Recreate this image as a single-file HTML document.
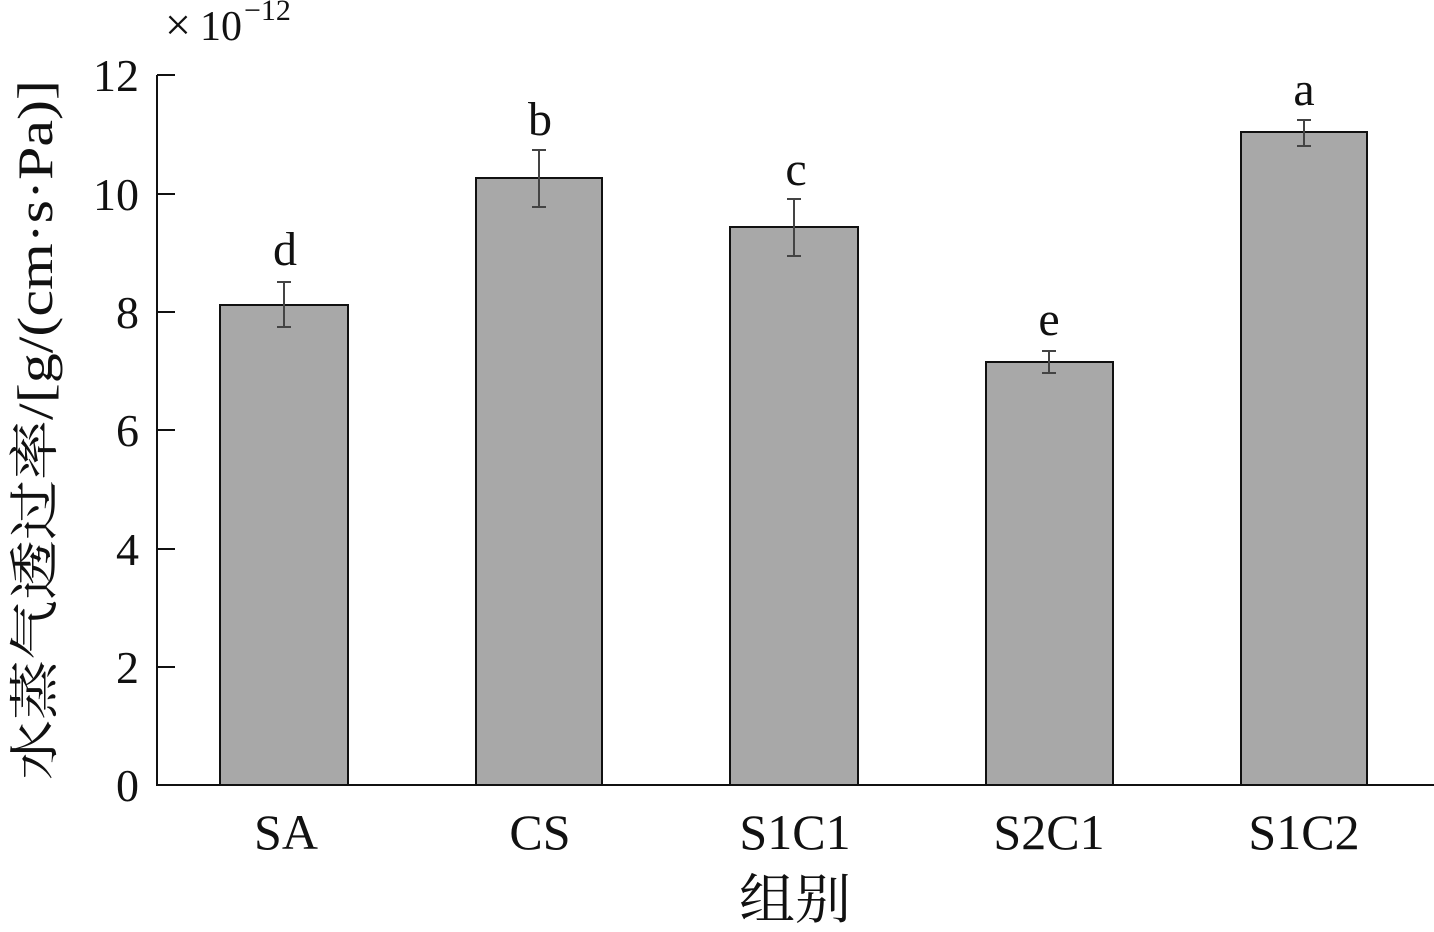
<!DOCTYPE html>
<html><head><meta charset="utf-8"><style>
body{margin:0;background:#fff;}
svg text{font-family:"Liberation Serif","Noto Serif CJK SC",serif;fill:#111;}
</style></head><body>
<svg width="1434" height="927" xmlns="http://www.w3.org/2000/svg">
<g stroke="#111" stroke-width="2" fill="none">
<line x1="157" y1="75" x2="157" y2="786"/>
<line x1="156" y1="785" x2="1434" y2="785"/>
<line x1="157" y1="75" x2="175" y2="75"/>
<line x1="157" y1="194" x2="175" y2="194"/>
<line x1="157" y1="312" x2="175" y2="312"/>
<line x1="157" y1="430" x2="175" y2="430"/>
<line x1="157" y1="549" x2="175" y2="549"/>
<line x1="157" y1="667" x2="175" y2="667"/>
</g>
<g font-size="46" text-anchor="end">
<text x="139" y="91">12</text>
<text x="139" y="210">10</text>
<text x="139" y="328">8</text>
<text x="139" y="446">6</text>
<text x="139" y="565">4</text>
<text x="139" y="683">2</text>
<text x="139" y="801">0</text>
</g>
<text x="165" y="40" font-size="46">×</text>
<text x="200" y="40" font-size="42">10</text>
<text x="244" y="20" font-size="30">−12</text>
<g fill="#a8a8a8" stroke="#111" stroke-width="2">
<rect x="220" y="305" width="128" height="480"/>
<rect x="476" y="178" width="126" height="607"/>
<rect x="730" y="227" width="128" height="558"/>
<rect x="986" y="362" width="127" height="423"/>
<rect x="1241" y="132" width="126" height="653"/>
</g>
<g stroke="#444" stroke-width="2">
<line x1="284" y1="282" x2="284" y2="327"/><line x1="277" y1="282" x2="291" y2="282"/><line x1="277" y1="327" x2="291" y2="327"/>
<line x1="539" y1="150" x2="539" y2="207"/><line x1="532" y1="150" x2="546" y2="150"/><line x1="532" y1="207" x2="546" y2="207"/>
<line x1="794" y1="199" x2="794" y2="256"/><line x1="787" y1="199" x2="801" y2="199"/><line x1="787" y1="256" x2="801" y2="256"/>
<line x1="1049" y1="351" x2="1049" y2="373"/><line x1="1042" y1="351" x2="1056" y2="351"/><line x1="1042" y1="373" x2="1056" y2="373"/>
<line x1="1304" y1="120" x2="1304" y2="146"/><line x1="1297" y1="120" x2="1311" y2="120"/><line x1="1297" y1="146" x2="1311" y2="146"/>
</g>
<g font-size="48" text-anchor="middle">
<text x="285" y="265">d</text>
<text x="540" y="135">b</text>
<text x="796" y="185">c</text>
<text x="1049" y="335">e</text>
<text x="1304" y="105">a</text>
</g>
<g font-size="50" text-anchor="middle">
<text x="286" y="849">SA</text>
<text x="540" y="849">CS</text>
<text x="795" y="849">S1C1</text>
<text x="1049" y="849">S2C1</text>
<text x="1304" y="849">S1C2</text>
</g>
<text x="795" y="918" font-size="54" text-anchor="middle" textLength="112" lengthAdjust="spacingAndGlyphs">组别</text>
<text transform="translate(52,430) rotate(-90)" text-anchor="middle" font-size="50" textLength="700" lengthAdjust="spacingAndGlyphs">水蒸气透过率/[g/(cm·s·Pa)]</text>
</svg>
</body></html>
